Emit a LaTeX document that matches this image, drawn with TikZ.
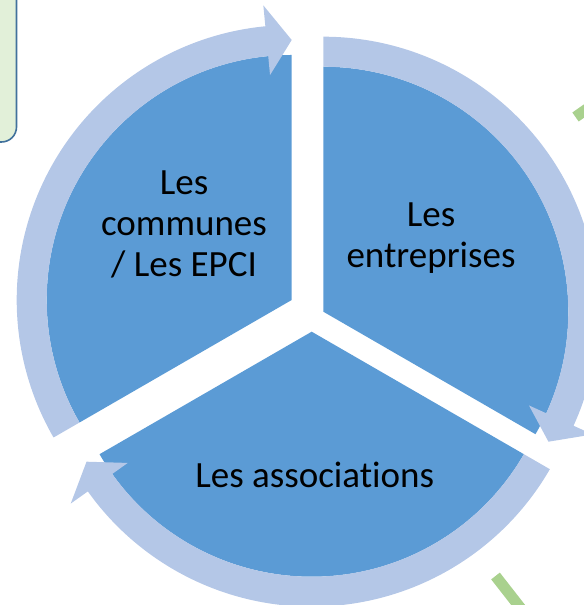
\documentclass[tikz,border=0pt]{standalone}
\usepackage{fontspec}
\setmainfont[Ligatures=NoCommon]{Carlito}
\usepackage{tikz}
\usetikzlibrary{positioning}
\definecolor{secblue}{HTML}{5B9BD5}
\definecolor{ringblue}{HTML}{B4C7E7}
\definecolor{boxgreen}{HTML}{E2F0D9}
\definecolor{boxline}{HTML}{41719C}
\definecolor{linegreen}{HTML}{A9D18E}
\tikzstyle{sector} = [fill=secblue]
\tikzstyle{ring} = [fill=ringblue]
\tikzstyle{label} = [inner sep=0pt, align=center, font=\fontsize{37bp}{41bp}\selectfont]
\tikzstyle{greenbar} = [draw=linegreen, line width=11bp]

\begin{document}
\begin{tikzpicture}[x=1bp, y=1bp]
 \useasboundingbox (0,0) rectangle (584,605);
 \clip (0,0) rectangle (584,605);

 % note box, top left
 \draw[fill=boxgreen, draw=boxline, line width=1.6bp, rounded corners=15bp] (-40,463) rectangle (16.5,650);

 % green bars at the right
 \draw[greenbar] (575.5,488) -- ++(35:40);
 \draw[greenbar] (495.5,29) -- ++(-52:50);

 \coordinate (apexL) at (291.7,305);
 \coordinate (apexR) at (323.3,293.3);
 \coordinate (apexB) at (311.7,273.3);

 % left part
 \begin{scope}[shift={(apexL)}]
  \fill[sector] (0,0) -- (90:245) arc[start angle=90, end angle=210, radius=245] -- cycle;
  \fill[ring] (210:275) arc[start angle=210, end angle=95.5, radius=275] -- (95.5:296) -- (90:260)
   -- (95.5:226) -- (95.5:245) arc[start angle=95.5, end angle=210, radius=245] -- cycle;
 \end{scope}

 % right part
 \begin{scope}[shift={(apexR)}]
  \fill[sector] (0,0) -- (-30:245) arc[start angle=-30, end angle=90, radius=245] -- cycle;
  \fill[ring] (90:275) arc[start angle=90, end angle=-24.5, radius=275] -- (-24.5:296) -- (-30:260)
   -- (-24.5:226) -- (-24.5:245) arc[start angle=-24.5, end angle=90, radius=245] -- cycle;
 \end{scope}

 % bottom part
 \begin{scope}[shift={(apexB)}]
  \fill[sector] (0,0) -- (210:245) arc[start angle=210, end angle=330, radius=245] -- cycle;
  \fill[ring] (330:275) arc[start angle=330, end angle=215.5, radius=275] -- (215.5:296) -- (210:260)
   -- (215.5:226) -- (215.5:245) arc[start angle=215.5, end angle=330, radius=245] -- cycle;
 \end{scope}

 \node (communes) [label, anchor=base] at (184,328.1) {Les\\communes\\/ Les EPCI};
 \node (entreprises) [label, anchor=base] at (431,337.7) {Les\\entreprises};
 \node (associations) [label, anchor=base] at (314.7,117.2) {Les associations};
\end{tikzpicture}
\end{document}
